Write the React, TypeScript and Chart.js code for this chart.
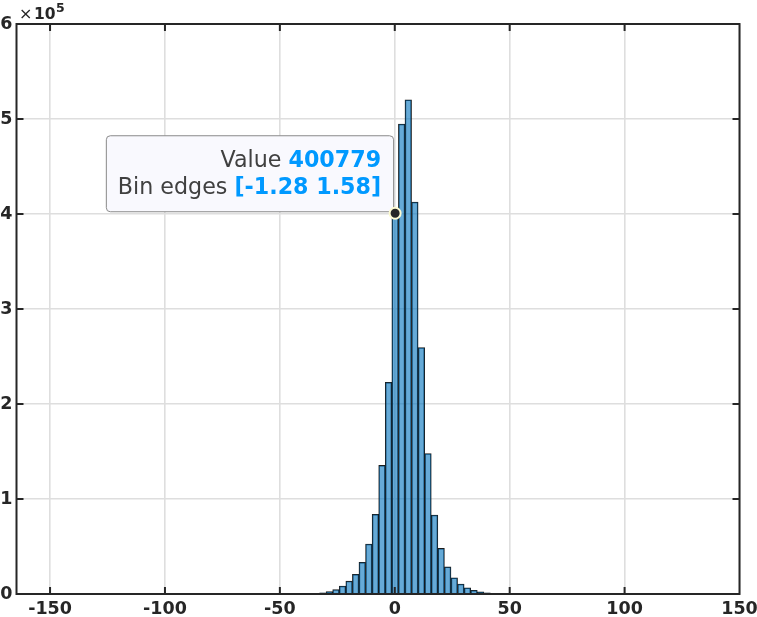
import React, { useEffect, useRef } from "react";
import { Chart, registerables } from "chart.js";

Chart.register(...registerables);

// ---- data ----
const binCenters = [
  -34.17, -31.31, -28.45, -25.59, -22.73, -19.87, -17.01, -14.15, -11.29, -8.43,
  -5.57, -2.71, 0.15, 3.01, 5.87, 8.73, 11.59, 14.45, 17.31, 20.17,
  23.03, 25.89, 28.75, 31.61, 34.47, 37.33, 40.19, 43.05,
];
const binCounts = [
  500, 1200, 2600, 4600, 8400, 13500, 20800, 33400, 52600, 83900,
  135400, 222800, 400779, 494700, 520300, 412600, 259400, 147800, 83200, 48000,
  28500, 17000, 10500, 6600, 3900, 2200, 1200, 400,
];
const xTickValues = [-150, -100, -50, 0, 50, 100, 150];
const yTickValues = [0, 100000, 200000, 300000, 400000, 500000, 600000];
const yTickLabels = ["0", "1", "2", "3", "4", "5", "6"];
const xLimits = [-164.6, 150];
const yLimits = [0, 600000];
const yExponent = "5";
const datatipIndex = 12;
const datatipEdges = [-1.28, 1.58];

const FONT = "'DejaVu Sans', sans-serif";
const AXIS_COLOR = "#262626";

const framePlugin = {
  id: "matlabFrame",
  afterDatasetsDraw(chart: any) {
    const { ctx, chartArea: a, scales } = chart;
    ctx.save();
    ctx.strokeStyle = AXIS_COLOR;
    ctx.lineWidth = 2;
    const tl = 7;
    ctx.beginPath();
    for (const t of scales.x.ticks) {
      const px = scales.x.getPixelForValue(t.value);
      if (px <= a.left + 1 || px >= a.right - 1) continue;
      ctx.moveTo(px, a.bottom);
      ctx.lineTo(px, a.bottom - tl);
      ctx.moveTo(px, a.top);
      ctx.lineTo(px, a.top + tl);
    }
    for (const t of scales.y.ticks) {
      const py = scales.y.getPixelForValue(t.value);
      if (py <= a.top + 1 || py >= a.bottom - 1) continue;
      ctx.moveTo(a.left, py);
      ctx.lineTo(a.left + tl, py);
      ctx.moveTo(a.right, py);
      ctx.lineTo(a.right - tl, py);
    }
    ctx.stroke();
    ctx.strokeRect(a.left, a.top, a.right - a.left, a.bottom - a.top);

    // exponent label  ×10^5
    ctx.fillStyle = AXIS_COLOR;
    ctx.textBaseline = "alphabetic";
    ctx.textAlign = "left";
    let x = a.left + 2.5;
    const base = a.top - 5.5;
    ctx.font = `16px ${FONT}`;
    ctx.fillText("\u00d7", x, base);
    x += ctx.measureText("\u00d7").width + 1.5;
    ctx.font = `bold 15.5px ${FONT}`;
    ctx.fillText("10", x, base);
    x += ctx.measureText("10").width + 0.5;
    ctx.font = `bold 12.5px ${FONT}`;
    ctx.fillText(yExponent, x, base - 6.5);
    ctx.restore();
  },
};

const datatipPlugin = {
  id: "datatip",
  afterDraw(chart: any) {
    const { ctx, scales } = chart;
    const px = scales.x.getPixelForValue(binCenters[datatipIndex]);
    const py = scales.y.getPixelForValue(binCounts[datatipIndex]);
    const lines = [
      ["Value ", String(binCounts[datatipIndex])],
      ["Bin edges ", `[${datatipEdges[0].toFixed(2)} ${datatipEdges[1].toFixed(2)}]`],
    ];
    ctx.save();
    const normal = `22.2px ${FONT}`;
    const bold = `bold 22.2px ${FONT}`;
    const widths = lines.map(([l, v]) => {
      ctx.font = normal;
      const wl = ctx.measureText(l).width;
      ctx.font = bold;
      const wv = ctx.measureText(v).width;
      return { wl, wv };
    });
    const textW = Math.max(...widths.map((w) => w.wl + w.wv));
    const boxW = textW + 24;
    const boxH = 76;
    const right = px - 2;
    const bottom = py - 2;
    const left = right - boxW;
    const top = bottom - boxH;
    ctx.beginPath();
    ctx.roundRect(left + 0.5, top + 0.5, boxW, boxH, 4);
    ctx.fillStyle = "#f9f9fe";
    ctx.fill();
    ctx.strokeStyle = "#8a8a8a";
    ctx.lineWidth = 1;
    ctx.stroke();

    ctx.textBaseline = "alphabetic";
    ctx.textAlign = "right";
    const tx = right - 12;
    const baselines = [top + 32, top + 59];
    lines.forEach(([l, v], i) => {
      ctx.font = bold;
      ctx.fillStyle = "#0099ff";
      ctx.fillText(v, tx, baselines[i]);
      ctx.font = normal;
      ctx.fillStyle = "#404040";
      ctx.fillText(l, tx - widths[i].wv, baselines[i]);
    });

    // marker
    ctx.beginPath();
    ctx.arc(px, py, 5.5, 0, Math.PI * 2);
    ctx.fillStyle = "#262626";
    ctx.fill();
    ctx.strokeStyle = "#fdfbd2";
    ctx.lineWidth = 2;
    ctx.stroke();
    ctx.restore();
  },
};

export default function App() {
  const ref = useRef<HTMLCanvasElement | null>(null);

  useEffect(() => {
    if (!ref.current) return;
    const tickFont = { family: FONT, size: 17.5, weight: "bold" as const };
    const chart = new Chart(ref.current, {
      type: "bar",
      data: {
        datasets: [
          {
            data: binCenters.map((c, i) => ({ x: c, y: binCounts[i] })),
            backgroundColor: "rgba(0,114,189,0.6)",
            borderColor: "rgba(15,15,15,0.95)",
            borderWidth: 0.85,
            barPercentage: 1,
            categoryPercentage: 1,
          },
        ],
      },
      options: {
        animation: false,
        responsive: false,
        devicePixelRatio: 1,
        layout: { padding: { left: 0, top: 24, right: 17.5, bottom: 0 } },
        plugins: { legend: { display: false }, tooltip: { enabled: false } },
        events: [],
        scales: {
          x: {
            type: "linear",
            min: xLimits[0],
            max: xLimits[1],
            offset: false,
            grid: { offset: false, color: "#dedede", lineWidth: 1.6, drawTicks: false },
            border: { display: false },
            afterBuildTicks: (s: any) => {
              s.ticks = xTickValues.map((value) => ({ value }));
            },
            afterFit: (s: any) => {
              s.height = 23;
              s.paddingLeft = 0;
              s.paddingRight = 0;
            },
            ticks: {
              autoSkip: false,
              maxRotation: 0,
              padding: 5,
              color: AXIS_COLOR,
              font: tickFont,
              callback: (v: any) => String(v),
            },
          },
          y: {
            type: "linear",
            min: yLimits[0],
            max: yLimits[1],
            grid: { color: "#dedede", lineWidth: 1.6, drawTicks: false },
            border: { display: false },
            afterBuildTicks: (s: any) => {
              s.ticks = yTickValues.map((value) => ({ value }));
            },
            afterFit: (s: any) => {
              s.width = 16.5;
              s.paddingTop = 0;
              s.paddingBottom = 0;
            },
            ticks: {
              autoSkip: false,
              padding: 4,
              color: AXIS_COLOR,
              font: tickFont,
              callback: (v: any) => {
                const i = yTickValues.indexOf(Number(v));
                return i >= 0 ? yTickLabels[i] : "";
              },
            },
          },
        },
      },
      plugins: [framePlugin, datatipPlugin],
    });
    return () => chart.destroy();
  }, []);

  return (
    <div style={{ position: "fixed", left: 0, top: 0, width: 757, height: 617, background: "#fff" }}>
      <canvas ref={ref} width={757} height={617} style={{ display: "block", width: 757, height: 617 }} />
    </div>
  );
}
